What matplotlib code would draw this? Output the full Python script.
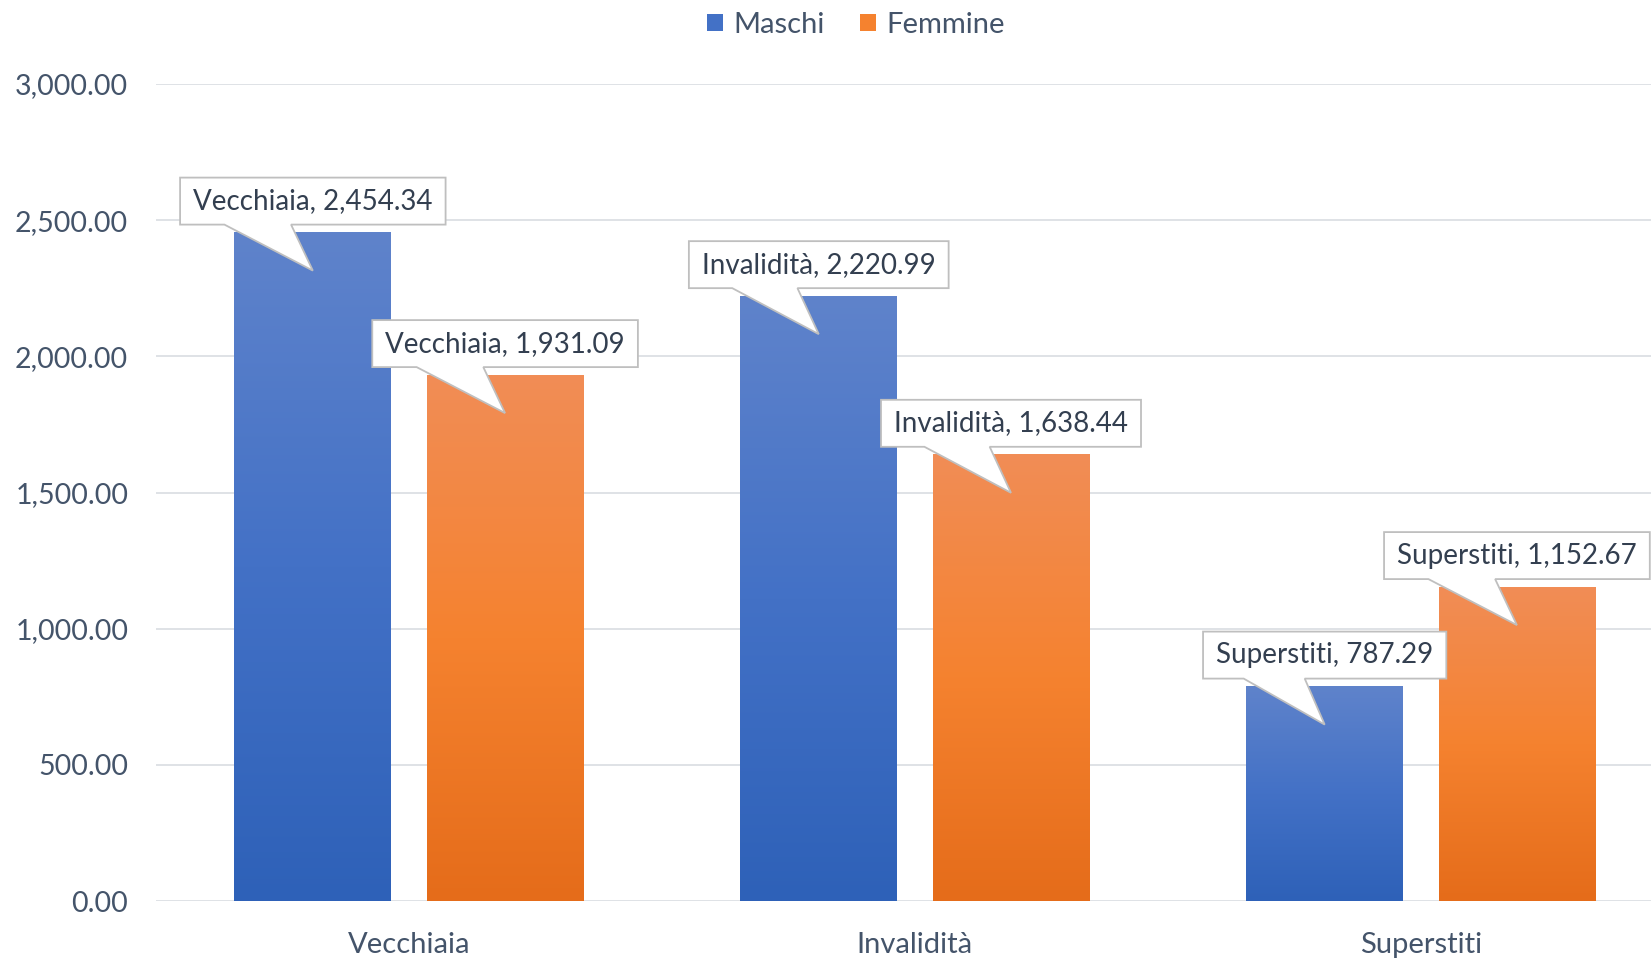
import numpy as np
import matplotlib
matplotlib.use("Agg")
import matplotlib.pyplot as plt
from matplotlib.colors import LinearSegmentedColormap
from matplotlib.patches import Polygon, Patch

plt.rcParams['font.family'] = ['Lato', 'DejaVu Sans']

categories = ['Vecchiaia', 'Invalidità', 'Superstiti']
maschi = [2454.34, 2220.99, 787.29]
femmine = [1931.09, 1638.44, 1152.67]
series_names = ['Maschi', 'Femmine']
yticks = [0, 500, 1000, 1500, 2000, 2500, 3000]

# top / middle / bottom of the gradient fill
blue_stops = ['#5F83CB', '#4371C6', '#2E61B8']
orange_stops = ['#F18D56', '#F5822F', '#E56C1A']

W, H = 1651, 959
fig = plt.figure(figsize=(W / 100, H / 100), dpi=100)
ax = fig.add_axes([156 / W, 58 / H, 1 - 156 / W, 817 / H])

bw = 0.31
off = 0.19
x = np.arange(len(categories))


def grad_bar(xc, val, stops):
    cmap = LinearSegmentedColormap.from_list('g', stops[::-1])
    grad = np.linspace(0, 1, 256).reshape(-1, 1)
    ax.imshow(grad, cmap=cmap, origin='lower', aspect='auto',
              extent=(xc - bw / 2, xc + bw / 2, 0, val), zorder=2,
              interpolation='bilinear')


bars = []
for i in range(len(categories)):
    grad_bar(x[i] - off, maschi[i], blue_stops)
    grad_bar(x[i] + off, femmine[i], orange_stops)
    bars.append((x[i] - off, maschi[i]))
    bars.append((x[i] + off, femmine[i]))

ax.set_xlim(-0.5, 2.455)
ax.set_ylim(0, 3000)

ax.set_yticks(yticks)
ax.set_yticklabels([f'{v:,.2f}' for v in yticks])
ax.set_xticks(x)
ax.set_xticklabels(categories)
ax.tick_params(axis='y', length=0, pad=20, labelsize=20.5, labelcolor='#44546A')
ax.tick_params(axis='x', length=0, pad=22, labelsize=21, labelcolor='#44546A')
ax.grid(axis='y', color='#DCDFE4', lw=1.3, zorder=0)
ax.set_axisbelow(True)
for s in ax.spines.values():
    s.set_visible(False)

# legend
handles = [Patch(facecolor=blue_stops[1], edgecolor='none'),
           Patch(facecolor=orange_stops[1], edgecolor='none')]
fig.legend(handles, series_names, loc='center', bbox_to_anchor=(856 / W, 1 - 25 / H),
           ncol=2, frameon=False, fontsize=21, labelcolor='#44546A',
           handlelength=0.55, handleheight=0.55, handletextpad=0.35, columnspacing=1.2)

# callouts
labels = []
for i in range(len(categories)):
    labels.append(f'{categories[i]}, {maschi[i]:,.2f}')
    labels.append(f'{categories[i]}, {femmine[i]:,.2f}')

fig.canvas.draw()
inv = ax.transData.inverted()
for (bx, bv), lab in zip(bars, labels):
    px, py = ax.transData.transform((bx, bv))
    tip_y = py - 38
    bottom = tip_y + 46
    top = bottom + 47
    t = ax.text(bx, bv, lab, fontsize=20, color='#333F50', ha='center', va='center',
                zorder=6)
    bb = t.get_window_extent(fig.canvas.get_renderer())
    w = bb.width + 26
    left = px - w / 2
    right = px + w / 2
    pts = [(left, bottom), (left + 0.167 * w, bottom), (px, tip_y),
           (left + 0.418 * w, bottom), (right, bottom), (right, top), (left, top)]
    data_pts = inv.transform(pts)
    poly = Polygon(data_pts, closed=True, facecolor='white', edgecolor='#BFBFBF',
                   lw=1.3, zorder=5, clip_on=False)
    ax.add_patch(poly)
    t.set_position(inv.transform((px, (bottom + top) / 2)))
    t.set_clip_on(False)

fig.savefig('out.png', dpi=100)
